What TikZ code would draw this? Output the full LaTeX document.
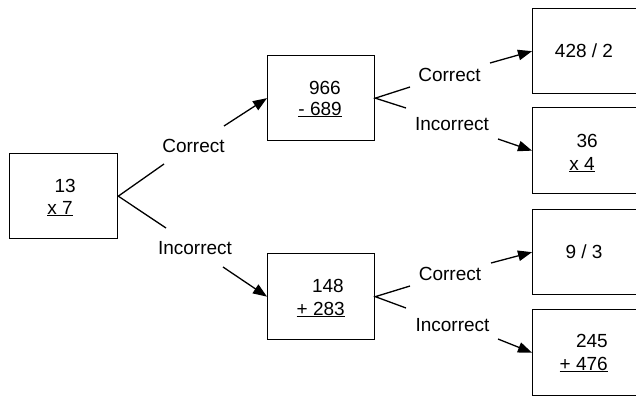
\documentclass[tikz,border=0pt]{standalone}
\usepackage{fontspec}
\setmainfont{Liberation Sans}
\usetikzlibrary{arrows.meta}
\begin{document}
\begin{tikzpicture}[x=1pt,y=-1pt,
  box/.style={draw,line width=1.3pt,inner sep=0pt,anchor=north west},
  num/.style={inner sep=0pt,anchor=base east,font=\fontsize{19}{22}\selectfont},
  lbl/.style={inner sep=0pt,font=\fontsize{19}{22}\selectfont},
  branch/.style={line width=1.3pt},
  arr/.style={line width=1.3pt,-{Triangle[length=14pt,width=10.5pt]}}]
\useasboundingbox (0,0) rectangle (636,399);
\clip (0,0) rectangle (636,399);
% boxes
\node[box,minimum width=108pt,minimum height=85pt] (A) at (9,153) {};
\node[box,minimum width=107pt,minimum height=85pt] (B1) at (267,55) {};
\node[box,minimum width=107pt,minimum height=86pt] (B2) at (267,253) {};
\node[box,minimum width=140pt,minimum height=85pt] (C1) at (532,8) {};
\node[box,minimum width=140pt,minimum height=86pt] (C2) at (532,107) {};
\node[box,minimum width=140pt,minimum height=85pt] (C3) at (532,209) {};
\node[box,minimum width=140pt,minimum height=86pt] (C4) at (532,309) {};
% box texts
\node[num] (a1) at (76,192) {13};
\node[num] (a2) at (73,214) {\underline{x 7}};
\node[num] (b11) at (341,94) {966};
\node[num] (b12) at (342,115) {\underline{- 689}};
\node[num] (b21) at (344,292) {148};
\node[num] (b22) at (345,315) {\underline{+ 283}};
\node[lbl] (c1t) at (584,51) {428 / 2};
\node[num] (c21) at (598,147) {36};
\node[num] (c22) at (595,170) {\underline{x 4}};
\node[lbl] (c3t) at (584,252) {9 / 3};
\node[num] (c41) at (608,347) {245};
\node[num] (c42) at (608,370) {\underline{+ 476}};
% branch ends
\coordinate (aU) at (164,164);
\coordinate (aD) at (166,228);
\coordinate (b1U) at (410,87);
\coordinate (b1D) at (406,108);
\coordinate (b2U) at (410,286);
\coordinate (b2D) at (406,308);
\draw[branch] (aU) -- (A.east) -- (aD);
\draw[branch] (b1U) -- (B1.east) -- (b1D);
\draw[branch] (b2U) -- (B2.east) -- (b2D);
% labels
\node[lbl] (l1) at (193.5,146) {Correct};
\node[lbl] (l2) at (195,248) {Incorrect};
\node[lbl] (l3) at (449.5,75) {Correct};
\node[lbl] (l4) at (452,124) {Incorrect};
\node[lbl] (l5) at (450,274) {Correct};
\node[lbl] (l6) at (452.5,325) {Incorrect};
% arrows
\coordinate (s1) at (224,126);
\coordinate (s2) at (223,267);
\coordinate (s3) at (490,63);
\coordinate (s4) at (498,139);
\coordinate (s5) at (491,263);
\coordinate (s6) at (498,339);
\draw[arr] (s1) -- (B1.west);
\draw[arr] (s2) -- (B2.west);
\draw[arr] (s3) -- (C1.west);
\draw[arr] (s4) -- (C2.west);
\draw[arr] (s5) -- (C3.west);
\draw[arr] (s6) -- (C4.west);
\end{tikzpicture}
\end{document}
